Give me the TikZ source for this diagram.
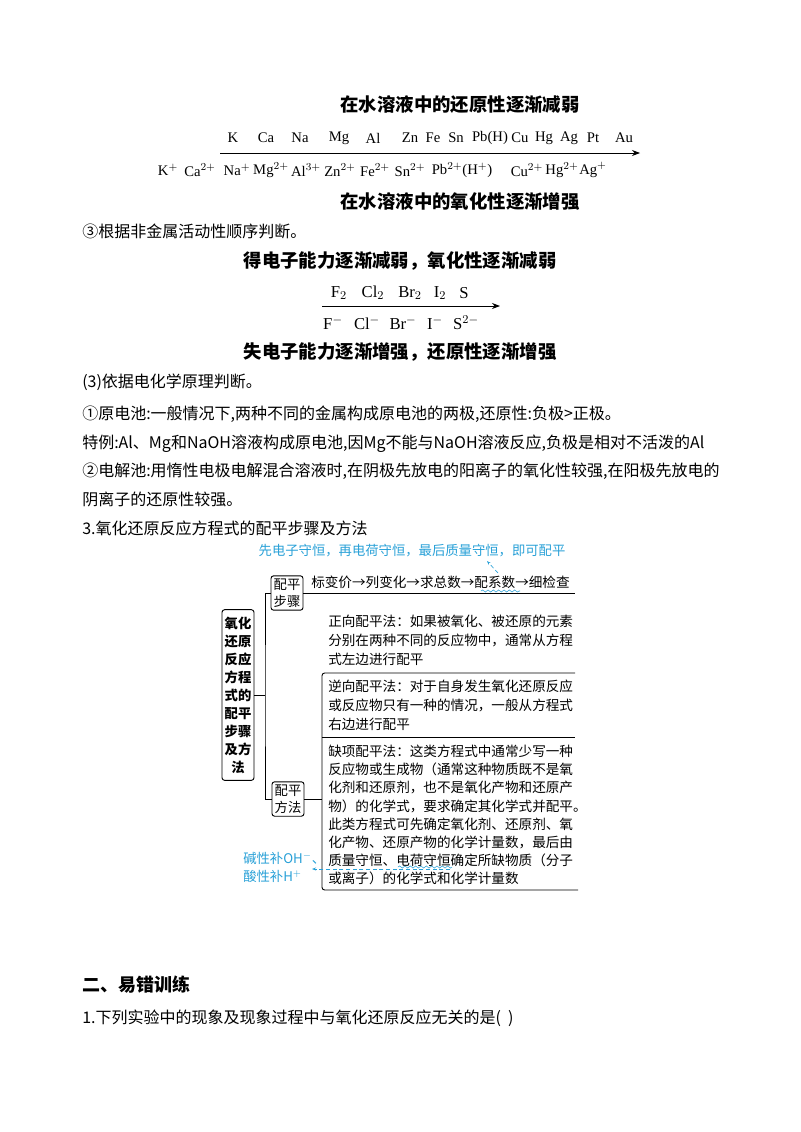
\documentclass[tikz,border=0pt]{standalone}
\usepackage{fontspec}
\setmainfont{Liberation Serif}
\newfontfamily\cjk{Noto Sans CJK SC}
\usetikzlibrary{decorations.pathmorphing,arrows.meta}
\definecolor{hand}{RGB}{40,160,215}
\tikzset{
 body/.style={anchor=west,inner sep=0pt,font=\cjk\fontsize{12}{14}\selectfont},
 head/.style={inner sep=0pt,font=\cjk\bfseries\fontsize{13.8}{16}\selectfont},
 chem/.style={inner sep=0pt,font=\fontsize{11}{12}\selectfont},
 dg/.style={anchor=west,inner sep=0pt,font=\cjk\fontsize{10.2}{14.2}\selectfont,align=left},
 bx/.style={draw,rounded corners=2pt,line width=0.7pt,inner sep=2pt,font=\cjk\fontsize{10}{13}\selectfont,align=center},
 ln/.style={line width=0.7pt},
 note/.style={inner sep=0pt,text=hand,font=\cjk\itshape\fontsize{10}{12}\selectfont},
 wave/.style={hand,decorate,decoration={snake,amplitude=0.8pt,segment length=4pt}},
}
\begin{document}
\begin{tikzpicture}[x=0.75pt,y=-0.75pt]
\useasboundingbox (0,0) rectangle (800,1132);
\node[head] (t1) at (460,105) {在水溶液中的还原性逐渐减弱};
\foreach \s/\x in {K/233,Ca/266,Na/300,Mg/339,Al/373,Zn/410,Fe/433,Sn/456,Pb(H)/490,Cu/520,Hg/544,Ag/569,Pt/593,Au/624}
  \node[chem] at (\x,138) {\s};
\coordinate (a1) at (220,153); \coordinate (a2) at (640,153);
\draw[-{Stealth[length=6pt]},line width=0.6pt] (a1) -- (a2);
\foreach \s/\x in {K$^{+}$/168,Ca$^{2+}$/200,Na$^{+}$/237,Mg$^{2+}$/271,Al$^{3+}$/306,Zn$^{2+}$/340,Fe$^{2+}$/375,Sn$^{2+}$/410,Pb$^{2+}$(H$^{+}$)/462,Cu$^{2+}$/527,Hg$^{2+}$/562,Ag$^{+}$/593}
  \node[chem] at (\x,170) {\s};
\node[head] (t2) at (460,202) {在水溶液中的氧化性逐渐增强};
\node[body] (p1) at (82,231) {③根据非金属活动性顺序判断。};
\node[head] (t3) at (400,261) {得电子能力逐渐减弱，氧化性逐渐减弱};
\foreach \s/\x in {F$_2$/339,Cl$_2$/373,Br$_2$/410,I$_2$/440,S/464}
  \node[chem,font=\fontsize{12.5}{14}\selectfont] at (\x,293) {\s};
\coordinate (b1) at (322,306); \coordinate (b2) at (500,306);
\draw[-{Stealth[length=6pt]},line width=0.6pt] (b1) -- (b2);
\foreach \s/\x in {F$^{-}$/333,Cl$^{-}$/367,Br$^{-}$/403,I$^{-}$/435,S$^{2-}$/466}
  \node[chem,font=\fontsize{12.5}{14}\selectfont] at (\x,323) {\s};
\node[head] (t4) at (400,352) {失电子能力逐渐增强，还原性逐渐增强};
\node[body] (p2) at (82,382) {(3)依据电化学原理判断。};
\node[body] (p3) at (82,414) {①原电池:一般情况下,两种不同的金属构成原电池的两极,还原性:负极>正极。};
\node[body] (p4) at (82,444) {特例:Al、Mg和NaOH溶液构成原电池,因Mg不能与NaOH溶液反应,负极是相对不活泼的Al};
\node[body] (p5) at (82,471) {②电解池:用惰性电极电解混合溶液时,在阴极先放电的阳离子的氧化性较强,在阳极先放电的};
\node[body] (p6) at (82,499) {阴离子的还原性较强。};
\node[body] (p7) at (82,528) {3.氧化还原反应方程式的配平步骤及方法};
% diagram
\node[bx,font=\cjk\bfseries\fontsize{10}{13.5}\selectfont,minimum width=24pt,minimum height=128pt] (main) at (238,695) {氧化\\还原\\反应\\方程\\式的\\配平\\步骤\\及方\\法};
\node[bx] (s1) at (287,593) {配平\\步骤};
\node[bx] (s2) at (288,799) {配平\\方法};
\coordinate (v0) at (265,695);
\draw[ln] (main.east) -- (v0);
\draw[ln] (s1.west) -| (v0) |- (s2.west);
\node[dg] (steps) at (311,582) {标变价→列变化→求总数→配系数→细检查};
\coordinate (l1) at (575,593);
\draw[ln] (s1.east) -- (l1);
\node[dg] (m1) at (328,640) {正向配平法：如果被氧化、被还原的元素\\分别在两种不同的反应物中，通常从方程\\式左边进行配平};
\node[dg] (m2) at (328,705) {逆向配平法：对于自身发生氧化还原反应\\或反应物只有一种的情况，一般从方程式\\右边进行配平};
\node[dg,font=\cjk\fontsize{10.2}{13.6}\selectfont] (m3) at (328,815) {缺项配平法：这类方程式中通常少写一种\\反应物或生成物（通常这种物质既不是氧\\化剂和还原剂，也不是氧化产物和还原产\\物）的化学式，要求确定其化学式并配平。\\此类方程式可先确定氧化剂、还原剂、氧\\化产物、还原产物的化学计量数，最后由\\质量守恒、电荷守恒确定所缺物质（分子\\或离子）的化学式和化学计量数};
\coordinate (c1) at (575,673); \coordinate (c2) at (322,890); \coordinate (c3) at (578,890);
\coordinate (d1) at (322,737); \coordinate (d2) at (575,737);
\draw[ln,rounded corners=2pt] (c1) -| (c2) -- (c3);
\draw[ln] (d1) -- (d2);
\draw[ln] (s2.east) -- (322,799);
% annotations
\node[note] (n1) at (412,551) {先电子守恒，再电荷守恒，最后质量守恒，即可配平};
\coordinate (w1) at (481,591); \coordinate (w2) at (520,591);
\draw[wave] (w1) -- (w2);
\coordinate (e1) at (498,573); \coordinate (e2) at (487,561);
\draw[hand,densely dashed,-{Stealth[length=3pt]},line width=0.5pt] (e1) -- (e2);
\coordinate (w3) at (398,867); \coordinate (w4) at (452,867);
\draw[wave] (w3) -- (w4);
\coordinate (f1) at (450,869); \coordinate (f2) at (312,869);
\draw[hand,densely dashed,-{Stealth[length=3pt]},line width=0.5pt] (f1) -- (f2);
\node[note,anchor=west] (n2) at (243,858) {碱性补OH$^-$、};
\node[note,anchor=west] (n3) at (243,876) {酸性补H$^+$};
\node[anchor=west,inner sep=0pt,font=\cjk\bfseries\fontsize{13.5}{15}\selectfont] (h2) at (82,985) {二、易错训练};
\node[body] (q1) at (82,1018) {1.下列实验中的现象及现象过程中与氧化还原反应无关的是(\ \ )};
\end{tikzpicture}
\end{document}
